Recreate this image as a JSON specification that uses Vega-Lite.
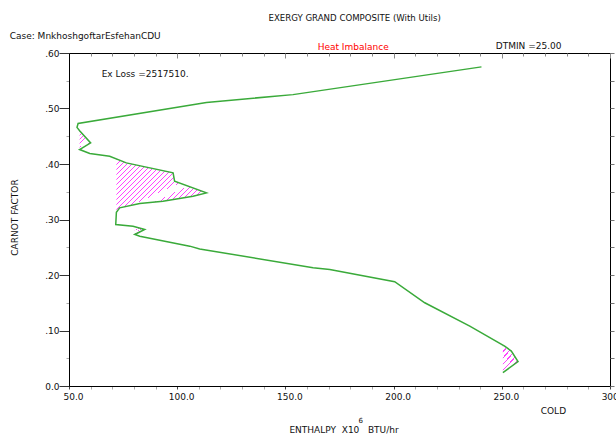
{
  "$schema": "https://vega.github.io/schema/vega-lite/v6.json",
  "width": 541,
  "height": 333,
  "autosize": {"type": "none"},
  "padding": {"left": 69, "top": 53, "right": 6, "bottom": 48},
  "background": "white",
  "config": {
    "font": "DejaVu Sans",
    "view": {"stroke": "black", "strokeWidth": 1},
    "axis": {"grid": false, "labelFont": "DejaVu Sans", "titleFont": "DejaVu Sans", "labelColor": "#111", "titleColor": "#111", "titleFontWeight": "normal", "domainColor": "black"}
  },
  "resolve": {"axis": {"x": "independent", "y": "independent"}},
  "layer": [
    {
      "data": {"values": [
        {"g": "B", "x": 71.9, "x0": 71.9, "y": 0.409},
        {"g": "B", "x": 76.5, "x0": 71.9, "y": 0.402},
        {"g": "B", "x": 98.1, "x0": 71.9, "y": 0.384},
        {"g": "B", "x": 98.8, "x0": 71.9, "y": 0.369},
        {"g": "B", "x": 113.5, "x0": 71.9, "y": 0.348},
        {"g": "B", "x": 107.3, "x0": 71.9, "y": 0.342},
        {"g": "B", "x": 93.4, "x0": 71.9, "y": 0.333},
        {"g": "B", "x": 82.7, "x0": 71.9, "y": 0.329},
        {"g": "B", "x": 73.4, "x0": 71.9, "y": 0.321},
        {"g": "B", "x": 71.9, "x0": 71.9, "y": 0.313}
      ]},
      "mark": {"type": "area", "orient": "horizontal", "color": {
        "gradient": "linear", "x1": 0, "y1": 0, "x2": 1.7, "y2": 1,
        "stops": [
          {"offset": 0, "color": "#ff44ff"}, {"offset": 0.0045, "color": "#ff44ff"}, {"offset": 0.0045, "color": "rgba(255,68,255,0)"},
          {"offset": 0.0244, "color": "rgba(255,68,255,0)"}, {"offset": 0.0244, "color": "#ff44ff"}, {"offset": 0.0289, "color": "#ff44ff"}, {"offset": 0.0289, "color": "rgba(255,68,255,0)"},
          {"offset": 0.0488, "color": "rgba(255,68,255,0)"}, {"offset": 0.0488, "color": "#ff44ff"}, {"offset": 0.0533, "color": "#ff44ff"}, {"offset": 0.0533, "color": "rgba(255,68,255,0)"},
          {"offset": 0.0732, "color": "rgba(255,68,255,0)"}, {"offset": 0.0732, "color": "#ff44ff"}, {"offset": 0.0777, "color": "#ff44ff"}, {"offset": 0.0777, "color": "rgba(255,68,255,0)"},
          {"offset": 0.0976, "color": "rgba(255,68,255,0)"}, {"offset": 0.0976, "color": "#ff44ff"}, {"offset": 0.1021, "color": "#ff44ff"}, {"offset": 0.1021, "color": "rgba(255,68,255,0)"},
          {"offset": 0.122, "color": "rgba(255,68,255,0)"}, {"offset": 0.122, "color": "#ff44ff"}, {"offset": 0.1265, "color": "#ff44ff"}, {"offset": 0.1265, "color": "rgba(255,68,255,0)"},
          {"offset": 0.1464, "color": "rgba(255,68,255,0)"}, {"offset": 0.1464, "color": "#ff44ff"}, {"offset": 0.1509, "color": "#ff44ff"}, {"offset": 0.1509, "color": "rgba(255,68,255,0)"},
          {"offset": 0.1708, "color": "rgba(255,68,255,0)"}, {"offset": 0.1708, "color": "#ff44ff"}, {"offset": 0.1753, "color": "#ff44ff"}, {"offset": 0.1753, "color": "rgba(255,68,255,0)"},
          {"offset": 0.1952, "color": "rgba(255,68,255,0)"}, {"offset": 0.1952, "color": "#ff44ff"}, {"offset": 0.1997, "color": "#ff44ff"}, {"offset": 0.1997, "color": "rgba(255,68,255,0)"},
          {"offset": 0.2196, "color": "rgba(255,68,255,0)"}, {"offset": 0.2196, "color": "#ff44ff"}, {"offset": 0.2241, "color": "#ff44ff"}, {"offset": 0.2241, "color": "rgba(255,68,255,0)"},
          {"offset": 0.244, "color": "rgba(255,68,255,0)"}, {"offset": 0.244, "color": "#ff44ff"}, {"offset": 0.2485, "color": "#ff44ff"}, {"offset": 0.2485, "color": "rgba(255,68,255,0)"},
          {"offset": 0.2684, "color": "rgba(255,68,255,0)"}, {"offset": 0.2684, "color": "#ff44ff"}, {"offset": 0.2729, "color": "#ff44ff"}, {"offset": 0.2729, "color": "rgba(255,68,255,0)"},
          {"offset": 0.2928, "color": "rgba(255,68,255,0)"}, {"offset": 0.2928, "color": "#ff44ff"}, {"offset": 0.2973, "color": "#ff44ff"}, {"offset": 0.2973, "color": "rgba(255,68,255,0)"},
          {"offset": 0.3172, "color": "rgba(255,68,255,0)"}, {"offset": 0.3172, "color": "#ff44ff"}, {"offset": 0.3217, "color": "#ff44ff"}, {"offset": 0.3217, "color": "rgba(255,68,255,0)"},
          {"offset": 0.3416, "color": "rgba(255,68,255,0)"}, {"offset": 0.3416, "color": "#ff44ff"}, {"offset": 0.3461, "color": "#ff44ff"}, {"offset": 0.3461, "color": "rgba(255,68,255,0)"},
          {"offset": 0.366, "color": "rgba(255,68,255,0)"}, {"offset": 0.366, "color": "#ff44ff"}, {"offset": 0.3705, "color": "#ff44ff"}, {"offset": 0.3705, "color": "rgba(255,68,255,0)"},
          {"offset": 0.3904, "color": "rgba(255,68,255,0)"}, {"offset": 0.3904, "color": "#ff44ff"}, {"offset": 0.3949, "color": "#ff44ff"}, {"offset": 0.3949, "color": "rgba(255,68,255,0)"},
          {"offset": 0.4148, "color": "rgba(255,68,255,0)"}, {"offset": 0.4148, "color": "#ff44ff"}, {"offset": 0.4193, "color": "#ff44ff"}, {"offset": 0.4193, "color": "rgba(255,68,255,0)"},
          {"offset": 0.4392, "color": "rgba(255,68,255,0)"}, {"offset": 0.4392, "color": "#ff44ff"}, {"offset": 0.4437, "color": "#ff44ff"}, {"offset": 0.4437, "color": "rgba(255,68,255,0)"},
          {"offset": 0.4636, "color": "rgba(255,68,255,0)"}, {"offset": 0.4636, "color": "#ff44ff"}, {"offset": 0.4681, "color": "#ff44ff"}, {"offset": 0.4681, "color": "rgba(255,68,255,0)"},
          {"offset": 0.488, "color": "rgba(255,68,255,0)"}, {"offset": 0.488, "color": "#ff44ff"}, {"offset": 0.4925, "color": "#ff44ff"}, {"offset": 0.4925, "color": "rgba(255,68,255,0)"},
          {"offset": 0.5124, "color": "rgba(255,68,255,0)"}, {"offset": 0.5124, "color": "#ff44ff"}, {"offset": 0.5169, "color": "#ff44ff"}, {"offset": 0.5169, "color": "rgba(255,68,255,0)"},
          {"offset": 0.5368, "color": "rgba(255,68,255,0)"}, {"offset": 0.5368, "color": "#ff44ff"}, {"offset": 0.5413, "color": "#ff44ff"}, {"offset": 0.5413, "color": "rgba(255,68,255,0)"},
          {"offset": 0.5612, "color": "rgba(255,68,255,0)"}, {"offset": 0.5612, "color": "#ff44ff"}, {"offset": 0.5657, "color": "#ff44ff"}, {"offset": 0.5657, "color": "rgba(255,68,255,0)"},
          {"offset": 0.5856, "color": "rgba(255,68,255,0)"}, {"offset": 0.5856, "color": "#ff44ff"}, {"offset": 0.5901, "color": "#ff44ff"}, {"offset": 0.5901, "color": "rgba(255,68,255,0)"},
          {"offset": 0.61, "color": "rgba(255,68,255,0)"}, {"offset": 0.61, "color": "#ff44ff"}, {"offset": 0.6145, "color": "#ff44ff"}, {"offset": 0.6145, "color": "rgba(255,68,255,0)"},
          {"offset": 0.6344, "color": "rgba(255,68,255,0)"}, {"offset": 0.6344, "color": "#ff44ff"}, {"offset": 0.6389, "color": "#ff44ff"}, {"offset": 0.6389, "color": "rgba(255,68,255,0)"},
          {"offset": 0.6588, "color": "rgba(255,68,255,0)"}, {"offset": 0.6588, "color": "#ff44ff"}, {"offset": 0.6633, "color": "#ff44ff"}, {"offset": 0.6633, "color": "rgba(255,68,255,0)"},
          {"offset": 0.6832, "color": "rgba(255,68,255,0)"}, {"offset": 0.6832, "color": "#ff44ff"}, {"offset": 0.6877, "color": "#ff44ff"}, {"offset": 0.6877, "color": "rgba(255,68,255,0)"},
          {"offset": 1, "color": "rgba(255,68,255,0)"}
        ]}},
      "encoding": {
        "y": {"field": "y", "type": "quantitative", "scale": {"domain": [0, 0.6], "nice": false, "zero": false},
          "axis": {"orient": "right", "values": [0, 0.05, 0.1, 0.15, 0.2, 0.25, 0.3, 0.35, 0.4, 0.45, 0.5, 0.55, 0.6], "labels": false, "domain": false, "title": null, "tickSize": 4, "tickColor": "#777"}},
        "x": {"field": "x", "type": "quantitative", "scale": {"domain": [50, 300], "nice": false, "zero": false},
          "axis": {"orient": "top", "values": [50, 60, 70, 80, 90, 100, 110, 120, 130, 140, 150, 160, 170, 180, 190, 200, 210, 220, 230, 240, 250, 260, 270, 280, 290, 300], "labels": false, "domain": false, "title": null,
            "tickSize": {"condition": {"test": "datum.value % 50 == 0", "value": -5}, "value": -3}, "tickColor": "#888"}},
        "x2": {"field": "x0"}
      }
    },
    {
      "data": {"values": [
        {"g": "A", "x": 54.9, "x0": 54.9, "y": 0.460},
        {"g": "A", "x": 60.0, "x0": 54.9, "y": 0.438},
        {"g": "A", "x": 54.9, "x0": 54.9, "y": 0.426},
        {"g": "C", "x": 250.5, "x0": 250.5, "y": 0.074},
        {"g": "C", "x": 251.3, "x0": 250.5, "y": 0.072},
        {"g": "C", "x": 254.4, "x0": 250.5, "y": 0.063},
        {"g": "C", "x": 257.5, "x0": 250.5, "y": 0.044},
        {"g": "C", "x": 250.5, "x0": 250.5, "y": 0.024},
        {"g": "D", "x": 80.4, "x0": 80.4, "y": 0.287},
        {"g": "D", "x": 85.0, "x0": 80.4, "y": 0.282},
        {"g": "D", "x": 80.4, "x0": 80.4, "y": 0.273}
      ]},
      "mark": {"type": "area", "orient": "horizontal", "color": {
        "gradient": "linear", "x1": 0, "y1": 0, "x2": 0.57, "y2": 1,
        "stops": [
          {"offset": 0, "color": "#ff44ff"}, {"offset": 0.032, "color": "#ff44ff"}, {"offset": 0.032, "color": "rgba(255,68,255,0)"},
          {"offset": 0.1667, "color": "rgba(255,68,255,0)"}, {"offset": 0.1667, "color": "#ff44ff"}, {"offset": 0.1987, "color": "#ff44ff"}, {"offset": 0.1987, "color": "rgba(255,68,255,0)"},
          {"offset": 0.3333, "color": "rgba(255,68,255,0)"}, {"offset": 0.3333, "color": "#ff44ff"}, {"offset": 0.3653, "color": "#ff44ff"}, {"offset": 0.3653, "color": "rgba(255,68,255,0)"},
          {"offset": 0.5, "color": "rgba(255,68,255,0)"}, {"offset": 0.5, "color": "#ff44ff"}, {"offset": 0.532, "color": "#ff44ff"}, {"offset": 0.532, "color": "rgba(255,68,255,0)"},
          {"offset": 0.6667, "color": "rgba(255,68,255,0)"}, {"offset": 0.6667, "color": "#ff44ff"}, {"offset": 0.6987, "color": "#ff44ff"}, {"offset": 0.6987, "color": "rgba(255,68,255,0)"},
          {"offset": 0.8333, "color": "rgba(255,68,255,0)"}, {"offset": 0.8333, "color": "#ff44ff"}, {"offset": 0.8653, "color": "#ff44ff"}, {"offset": 0.8653, "color": "rgba(255,68,255,0)"},
          {"offset": 1, "color": "rgba(255,68,255,0)"}
        ]}},
      "encoding": {
        "y": {"field": "y", "type": "quantitative", "scale": {"domain": [0, 0.6], "nice": false, "zero": false}, "axis": null},
        "x": {"field": "x", "type": "quantitative", "scale": {"domain": [50, 300], "nice": false, "zero": false}, "axis": null},
        "x2": {"field": "x0"},
        "detail": {"field": "g"}
      }
    },
    {
      "data": {"values": [
        {"i": 1, "x": 240.6, "y": 0.575},
        {"i": 2, "x": 153.5, "y": 0.525},
        {"i": 3, "x": 113.5, "y": 0.511},
        {"i": 4, "x": 54.2, "y": 0.473},
        {"i": 5, "x": 53.7, "y": 0.466},
        {"i": 6, "x": 54.9, "y": 0.460},
        {"i": 7, "x": 60.0, "y": 0.438},
        {"i": 8, "x": 54.9, "y": 0.426},
        {"i": 9, "x": 59.6, "y": 0.419},
        {"i": 10, "x": 68.8, "y": 0.414},
        {"i": 11, "x": 76.5, "y": 0.402},
        {"i": 12, "x": 98.1, "y": 0.384},
        {"i": 13, "x": 98.8, "y": 0.369},
        {"i": 14, "x": 113.5, "y": 0.348},
        {"i": 15, "x": 107.3, "y": 0.342},
        {"i": 16, "x": 93.4, "y": 0.333},
        {"i": 17, "x": 82.7, "y": 0.329},
        {"i": 18, "x": 73.4, "y": 0.321},
        {"i": 19, "x": 71.9, "y": 0.313},
        {"i": 20, "x": 71.6, "y": 0.291},
        {"i": 21, "x": 79.6, "y": 0.288},
        {"i": 22, "x": 85.0, "y": 0.282},
        {"i": 23, "x": 80.4, "y": 0.273},
        {"i": 24, "x": 82.7, "y": 0.270},
        {"i": 25, "x": 105.8, "y": 0.252},
        {"i": 26, "x": 110.4, "y": 0.247},
        {"i": 27, "x": 162.8, "y": 0.213},
        {"i": 28, "x": 170.5, "y": 0.210},
        {"i": 29, "x": 200.5, "y": 0.188},
        {"i": 30, "x": 214.4, "y": 0.150},
        {"i": 31, "x": 235.2, "y": 0.108},
        {"i": 32, "x": 251.3, "y": 0.072},
        {"i": 33, "x": 254.4, "y": 0.063},
        {"i": 34, "x": 257.5, "y": 0.044},
        {"i": 35, "x": 250.5, "y": 0.024}
      ]},
      "mark": {"type": "line", "color": "#3aaa3a", "strokeWidth": 1.5},
      "encoding": {
        "x": {"field": "x", "type": "quantitative", "scale": {"domain": [50, 300], "nice": false, "zero": false},
          "axis": {"orient": "bottom", "values": [50, 60, 70, 80, 90, 100, 110, 120, 130, 140, 150, 160, 170, 180, 190, 200, 210, 220, 230, 240, 250, 260, 270, 280, 290, 300],
            "labelExpr": "datum.value % 50 == 0 ? format(datum.value, '.1f') : ''", "labelFlush": false, "labelOverlap": false, "labelOffset": 4, "labelPadding": 3, "labelFontSize": 9,
            "tickSize": 3, "tickColor": {"condition": {"test": "datum.value % 50 == 0", "value": "#444"}, "value": "#aaa"},
            "title": "ENTHALPY\u00a0\u00a0X10\u00a0\u00a0\u00a0BTU/hr", "titleFontSize": 9, "titleX": 274.5, "titleY": 43, "titleBaseline": "middle", "titleAlign": "center"}},
        "y": {"field": "y", "type": "quantitative", "scale": {"domain": [0, 0.6], "nice": false, "zero": false},
          "axis": {"orient": "left", "values": [0, 0.05, 0.1, 0.15, 0.2, 0.25, 0.3, 0.35, 0.4, 0.45, 0.5, 0.55, 0.6],
            "labelExpr": "datum.value == 0 ? '0.0' : (abs(datum.value * 10 - round(datum.value * 10)) < 0.001 ? slice(format(datum.value, '.2f'), 1) : '')",
            "labelFontSize": 9, "labelPadding": 0, "labelOverlap": false, "labelFlush": false,
            "tickSize": {"condition": {"test": "abs(datum.value * 10 - round(datum.value * 10)) < 0.001", "value": 10}, "value": 3},
            "tickColor": {"condition": {"test": "abs(datum.value * 10 - round(datum.value * 10)) < 0.001", "value": "#333"}, "value": "#aaa"},
            "title": "CARNOT FACTOR", "titleFontSize": 9, "titleX": -55, "titleY": 164, "titleAngle": 270, "titleBaseline": "middle", "titleAlign": "center"}},
        "order": {"field": "i", "type": "quantitative"}
      }
    },
    {
      "data": {"values": [
        {"t": "Case: MnkhoshgoftarEsfehanCDU", "x": 22.6, "y": 0.631},
        {"t": "DTMIN =25.00", "x": 247.2, "y": 0.613},
        {"t": "Ex Loss =2517510.", "x": 65.1, "y": 0.563},
        {"t": "COLD", "x": 268.0, "y": -0.0446}
      ]},
      "mark": {"type": "text", "align": "left", "baseline": "middle", "fontSize": 9, "font": "DejaVu Sans", "color": "#111"},
      "encoding": {
        "x": {"field": "x", "type": "quantitative", "scale": {"domain": [50, 300], "nice": false, "zero": false}, "axis": null},
        "y": {"field": "y", "type": "quantitative", "scale": {"domain": [0, 0.6], "nice": false, "zero": false}, "axis": null},
        "text": {"field": "t"}
      }
    },
    {
      "data": {"values": [
        {"t": "EXERGY GRAND COMPOSITE (With Utils)", "x": 182.0, "y": 0.6635}
      ]},
      "mark": {"type": "text", "align": "center", "baseline": "middle", "fontSize": 8.6, "font": "DejaVu Sans", "color": "#111"},
      "encoding": {
        "x": {"field": "x", "type": "quantitative", "scale": {"domain": [50, 300], "nice": false, "zero": false}, "axis": null},
        "y": {"field": "y", "type": "quantitative", "scale": {"domain": [0, 0.6], "nice": false, "zero": false}, "axis": null},
        "text": {"field": "t"}
      }
    },
    {
      "data": {"values": [
        {"t": "6", "x": 184.8, "y": -0.0625}
      ]},
      "mark": {"type": "text", "align": "center", "baseline": "middle", "fontSize": 7, "font": "DejaVu Sans", "color": "#111"},
      "encoding": {
        "x": {"field": "x", "type": "quantitative", "scale": {"domain": [50, 300], "nice": false, "zero": false}, "axis": null},
        "y": {"field": "y", "type": "quantitative", "scale": {"domain": [0, 0.6], "nice": false, "zero": false}, "axis": null},
        "text": {"field": "t"}
      }
    },
    {
      "data": {"values": [
        {"t": "Heat Imbalance", "x": 164.9, "y": 0.611}
      ]},
      "mark": {"type": "text", "align": "left", "baseline": "middle", "fontSize": 9, "font": "DejaVu Sans", "color": "#ff0000"},
      "encoding": {
        "x": {"field": "x", "type": "quantitative", "scale": {"domain": [50, 300], "nice": false, "zero": false}, "axis": null},
        "y": {"field": "y", "type": "quantitative", "scale": {"domain": [0, 0.6], "nice": false, "zero": false}, "axis": null},
        "text": {"field": "t"}
      }
    }
  ]
}
